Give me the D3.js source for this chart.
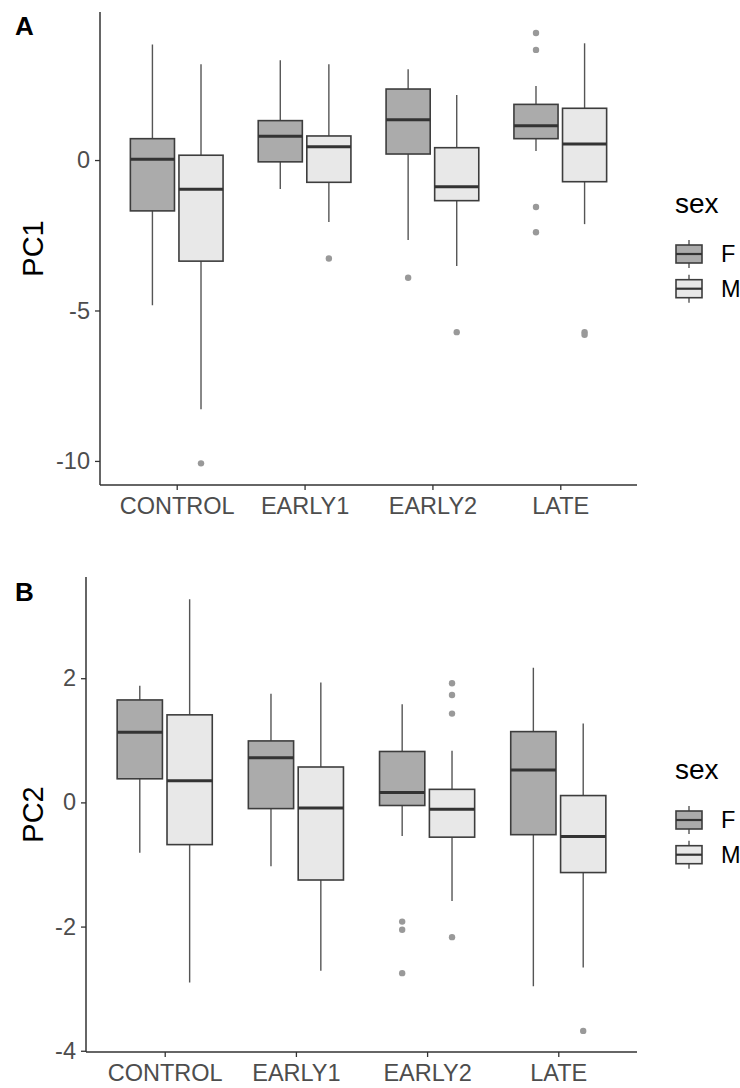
<!DOCTYPE html>
<html>
<head>
<meta charset="utf-8">
<script src="https://cdn.jsdelivr.net/npm/d3@7"></script>
<style>
  body { margin: 0; background: #fff; }
  svg { display: block; font-family: "Liberation Sans", Arial, sans-serif; }
</style>
</head>
<body>
<svg id="chart" width="740" height="1088"></svg>
<script>
var categories = ["CONTROL", "EARLY1", "EARLY2", "LATE"];
var sexes = ["F", "M"];
var sexFill = ["#ababab", "#e8e8e8"];

// five number summaries [lower whisker, q1, median, q3, upper whisker]
var pc1F = [[-4.83, -1.69, 0.03, 0.71, 3.84], [-0.96, -0.06, 0.79, 1.31, 3.32], [-2.66, 0.20, 1.34, 2.36, 3.02], [0.30, 0.71, 1.14, 1.85, 2.46]];
var pc1M = [[-8.28, -3.36, -0.97, 0.16, 3.18], [-2.06, -0.74, 0.44, 0.80, 3.18], [-3.52, -1.35, -0.89, 0.41, 2.16], [-2.13, -0.72, 0.53, 1.72, 3.88]];
var pc1FOut = [[], [], [-3.91], [4.22, 3.66, -1.56, -2.40]];
var pc1MOut = [[-10.08], [-3.27], [-5.72], [-5.72, -5.81]];
var pc1Ticks = [-10, -5, 0];

var pc2F = [[-0.81, 0.38, 1.13, 1.65, 1.88], [-1.03, -0.10, 0.72, 0.99, 1.75], [-0.54, -0.05, 0.16, 0.82, 1.58], [-2.96, -0.52, 0.52, 1.14, 2.17]];
var pc2M = [[-2.90, -0.68, 0.35, 1.41, 3.27], [-2.71, -1.25, -0.09, 0.57, 1.93], [-1.59, -0.56, -0.11, 0.21, 0.83], [-2.66, -1.13, -0.55, 0.11, 1.27]];
var pc2FOut = [[], [], [-1.92, -2.05, -2.75], []];
var pc2MOut = [[], [], [1.92, 1.73, 1.43, -2.17], [-3.68]];
var pc2Ticks = [-4, -2, 0, 2];

var svg = d3.select("#chart");

function drawPanel(opt){
    var g = svg.append("g");

    var x = d3.scalePoint().domain(categories).range([opt.left, opt.right]).padding(0.6);
    var y = d3.scaleLinear().domain(opt.domain).range([opt.bottom, opt.top]);
    var step = x.step();
    var bw = step * 0.345;

    var groups = [];
    sexes.forEach(function(s, si){
        categories.forEach(function(c, ci){
            groups.push({
                cat: c, sex: s, si: si,
                cx: x(c) + (si === 0 ? -1 : 1) * step * 0.19,
                st: opt.stats[si][ci],
                out: opt.outs[si][ci]
            });
        });
    });

    // whiskers
    g.selectAll(".whisker").data(groups).enter().append("line")
        .attr("x1", function(d){ return d.cx; })
        .attr("x2", function(d){ return d.cx; })
        .attr("y1", function(d){ return y(d.st[0]); })
        .attr("y2", function(d){ return y(d.st[4]); })
        .style("stroke", "#555")
        .style("stroke-width", "1.4px");

    g.selectAll(".box").data(groups).enter().append("rect")
        .attr("x", function(d){ return d.cx - bw / 2; })
        .attr("width", bw)
        .attr("y", function(d){ return y(d.st[3]); })
        .attr("height", function(d){ return y(d.st[1]) - y(d.st[3]); })
        .style("fill", function(d){ return sexFill[d.si]; })
        .style("stroke", "#3d3d3d")
        .style("stroke-width", "1.6px");

    g.selectAll(".median").data(groups).enter().append("line")
        .attr("x1", function(d){ return d.cx - bw / 2; })
        .attr("x2", function(d){ return d.cx + bw / 2; })
        .attr("y1", function(d){ return y(d.st[2]); })
        .attr("y2", function(d){ return y(d.st[2]); })
        .style("stroke", "#333")
        .style("stroke-width", "3px");

    groups.forEach(function(d){
        g.selectAll(null).data(d.out).enter().append("circle")
            .attr("cx", d.cx)
            .attr("cy", function(v){ return y(v); })
            .attr("r", 3.2)
            .style("fill", "#999");
    });

    // axes
    var yAxis = g.append("g")
        .attr("transform", "translate(" + opt.left + ",0)")
        .call(d3.axisLeft(y).tickValues(opt.ticks).tickSize(5).tickPadding(5)
            .tickFormat(function(d){ return String(d); }));
    var xAxis = g.append("g")
        .attr("transform", "translate(0," + opt.bottom + ")")
        .call(d3.axisBottom(x).tickSize(5).tickPadding(6));

    [yAxis, xAxis].forEach(function(a){
        a.select(".domain").style("stroke", "#333").style("stroke-width", "1.5px");
        a.selectAll(".tick line").style("stroke", "#333").style("stroke-width", "1.3px");
        a.selectAll("text").style("fill", "#4d4d4d").style("font-size", "23.5px")
            .style("font-family", "Liberation Sans, Arial, sans-serif");
    });
    yAxis.select(".domain").attr("d", "M0," + opt.bottom + "V" + opt.top);
    xAxis.select(".domain").attr("d", "M" + opt.left + ",0H" + opt.right);
    xAxis.selectAll("text").attr("dy", "0.75em");

    var mid = (opt.top + opt.bottom) / 2;

    g.append("text")
        .attr("transform", "translate(43," + mid + ") rotate(-90)")
        .attr("text-anchor", "middle")
        .style("font-size", "29px")
        .style("fill", "#000")
        .text(opt.ylab);

    g.append("text")
        .attr("x", 15).attr("y", opt.letterY)
        .style("font-size", "26px").style("font-weight", "bold")
        .text(opt.letter);

    // legend
    var lg = g.append("g");
    lg.append("text").attr("x", 675).attr("y", mid - 35.5)
        .style("font-size", "28px").style("fill", "#000").text("sex");

    var keys = lg.selectAll(".key").data(sexes).enter().append("g")
        .attr("transform", function(d, i){ return "translate(689," + (mid + 5.5 + i * 34.7) + ")"; });
    keys.append("line").attr("y1", -14).attr("y2", 14)
        .style("stroke", "#555").style("stroke-width", "1.4px");
    keys.append("rect").attr("x", -13).attr("y", -9).attr("width", 26).attr("height", 18)
        .style("fill", function(d, i){ return sexFill[i]; })
        .style("stroke", "#3d3d3d").style("stroke-width", "1.6px");
    keys.append("line").attr("x1", -13).attr("x2", 13)
        .style("stroke", "#333").style("stroke-width", "2.2px");
    keys.append("text").attr("x", 32).attr("dy", "0.36em")
        .style("font-size", "23.5px").style("fill", "#000")
        .text(function(d){ return d; });
}

drawPanel({
    left: 100, right: 637, top: 12, bottom: 485,
    domain: [-10.8, 4.92],
    ticks: pc1Ticks,
    stats: [pc1F, pc1M], outs: [pc1FOut, pc1MOut],
    ylab: "PC1", letter: "A", letterY: 35
});

drawPanel({
    left: 86, right: 637, top: 577, bottom: 1052,
    domain: [-4.02, 3.63],
    ticks: pc2Ticks,
    stats: [pc2F, pc2M], outs: [pc2FOut, pc2MOut],
    ylab: "PC2", letter: "B", letterY: 601
});
</script>
</body>
</html>
